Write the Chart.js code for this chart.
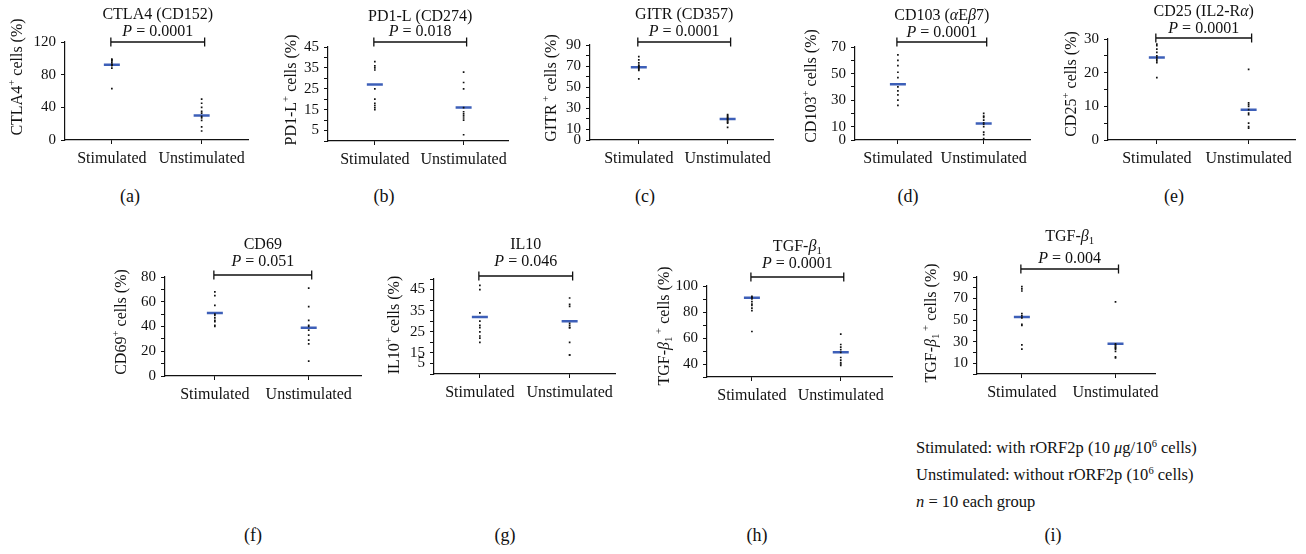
<!DOCTYPE html>
<html>
<head>
<meta charset="utf-8">
<script src="https://cdn.jsdelivr.net/npm/chart.js@4.4.1/dist/chart.umd.min.js"></script>
<style>
  body { margin: 0; background: #fff; }
  #fig { position: relative; width: 1306px; height: 554px; overflow: hidden; font-family: "Liberation Serif", serif; color: #111; }
  canvas { position: absolute; }
  .tag { position: absolute; font-size: 18px; transform: translate(-50%, -50%); white-space: nowrap; }
  .note { position: absolute; left: 916px; font-size: 16.5px; white-space: nowrap; transform: translateY(-50%); }
  .note sup { font-size: 10.5px; vertical-align: 6px; line-height: 0; }
</style>
</head>
<body>
<div id="fig">
  <div class="tag" style="left:130px; top:196px">(a)</div>
  <div class="tag" style="left:384px; top:196px">(b)</div>
  <div class="tag" style="left:645px; top:196px">(c)</div>
  <div class="tag" style="left:908px; top:196px">(d)</div>
  <div class="tag" style="left:1174px; top:196px">(e)</div>
  <div class="tag" style="left:253px; top:535px">(f)</div>
  <div class="tag" style="left:505px; top:535px">(g)</div>
  <div class="tag" style="left:757px; top:535px">(h)</div>
  <div class="tag" style="left:1053px; top:535px">(i)</div>
  <div class="note" style="top:448px">Stimulated: with rORF2p (10 <i>μ</i>g/10<sup>6</sup> cells)</div>
  <div class="note" style="top:475px">Unstimulated: without rORF2p (10<sup>6</sup> cells)</div>
  <div class="note" style="top:502px"><i>n</i> = 10 each group</div>
</div>
<script>
const groups = ['Stimulated', 'Unstimulated'];

// (a) CTLA4 (CD152)
const ctla4Stim = [99, 98, 97, 95, 93, 92, 92, 91, 88, 63];
const ctla4Unstim = [50, 45, 40, 35, 33, 29, 27, 24, 16, 11];
const ctla4Median = [92, 30];
const ctla4Ticks = [0, 40, 80, 120];
const ctla4TickLabels = ['0', '40', '80', '120'];

// (b) PD1-L (CD274)
const pd1lStim = [38, 36, 35, 34, 25, 20, 18, 17, 16, 15];
const pd1lUnstim = [33, 28, 25, 16, 14, 13, 12, 11, 10, 3];
const pd1lMedian = [27, 16];
const pd1lTicks = [0, 5, 10, 15, 20, 25, 30, 35, 40, 45];
const pd1lTickLabels = ['', '5', '', '15', '', '25', '', '35', '', '45'];

// (c) GITR (CD357)
const gitrStim = [79, 76, 73, 71, 70, 69, 68, 67, 66, 58];
const gitrUnstim = [24, 23, 22, 21, 20, 19, 18, 17, 16, 12];
const gitrMedian = [69, 20];
const gitrTicks = [0, 10, 20, 30, 40, 50, 60, 70, 80, 90];
const gitrTickLabels = ['0', '10', '', '30', '', '50', '', '70', '', '90'];

// (d) CD103
const cd103Stim = [64, 60, 56, 51, 47, 40, 37, 34, 30, 26];
const cd103Unstim = [20, 18, 17, 15, 13, 12, 10, 6, 4, 1];
const cd103Median = [42, 12.5];
const cd103Ticks = [0, 10, 20, 30, 40, 50, 60, 70];
const cd103TickLabels = ['0', '10', '', '30', '', '50', '', '70'];

// (e) CD25
const cd25Stim = [28.5, 28, 27, 26, 25, 24.5, 24, 23.5, 23, 18.5];
const cd25Unstim = [21, 11, 10.5, 10, 9, 8, 7.5, 5, 4, 3.5];
const cd25Median = [24.5, 9];
const cd25Ticks = [0, 5, 10, 15, 20, 25, 30];
const cd25TickLabels = ['0', '', '10', '', '20', '', '30'];

// (f) CD69
const cd69Stim = [68, 65, 57, 50, 49, 47, 45, 44, 41, 40];
const cd69Unstim = [71, 56, 45, 41, 40, 37, 33, 29, 26, 12];
const cd69Median = [51, 39];
const cd69Ticks = [0, 10, 20, 30, 40, 50, 60, 70, 80];
const cd69TickLabels = ['0', '', '20', '', '40', '', '60', '', '80'];

// (g) IL10
const il10Stim = [47, 45, 34, 30, 28, 27, 25, 23, 22, 20];
const il10Unstim = [41, 38, 37, 29, 28, 27, 27, 20, 14, 14];
const il10Median = [32, 30];
const il10Ticks = [5, 10, 15, 20, 25, 30, 35, 40, 45, 50];
const il10TickLabels = ['', '5', '15', '', '25', '', '35', '', '45', ''];

// (h) TGF-b1
const tgfStim = [92, 91, 91, 90, 88, 86, 85, 83, 81, 65];
const tgfUnstim = [63, 55, 53, 51, 49, 45, 43, 41, 40, 39];
const tgfMedian = [91, 49];
const tgfTicks = [30, 40, 50, 60, 70, 80, 90, 100];
const tgfTickLabels = ['', '40', '', '60', '', '80', '', '100'];

// (i) TGF-b1, second set
const tgf2Stim = [81, 79, 77, 56, 54, 52, 46, 45, 27, 23];
const tgf2Unstim = [67, 28, 27, 26, 25, 24, 23, 21, 16, 15];
const tgf2Median = [53, 28];
const tgf2Ticks = [0, 10, 20, 30, 40, 50, 60, 70, 80, 90];
const tgf2TickLabels = ['', '10', '', '30', '', '50', '', '70', '', '90'];

const pValues = ['0.0001', '0.018', '0.0001', '0.0001', '0.0001', '0.051', '0.046', '0.0001', '0.004'];

const FONT = '"Liberation Serif", serif';
const INK = '#111';
const BLUE = '#3d5fb8';

Chart.defaults.font.family = FONT;
Chart.defaults.color = INK;

function segFont(style, size) {
  const s = (style === 'sup' || style === 'sub') ? size * 0.68 : size;
  return (style === 'i' ? 'italic ' : '') + s + 'px ' + FONT;
}

function drawRich(ctx, segs, x, y, size) {
  let w = 0;
  segs.forEach(([t, st]) => { ctx.font = segFont(st, size); w += ctx.measureText(t).width; });
  let cx = x - w / 2;
  ctx.textAlign = 'left';
  ctx.textBaseline = 'middle';
  segs.forEach(([t, st]) => {
    ctx.font = segFont(st, size);
    const dy = st === 'sup' ? -size * 0.35 : st === 'sub' ? size * 0.28 : 0;
    ctx.fillText(t, cx, y + dy);
    cx += ctx.measureText(t).width;
  });
}

// title, P value, bracket and rotated y title
const figureText = {
  id: 'figureText',
  afterDraw(chart, args, opts) {
    const p = opts.panel;
    const ctx = chart.ctx;
    const xs = chart.scales.x;
    const x0 = xs.getPixelForValue(0) - 1;
    const x1 = xs.getPixelForValue(1) + 3;
    const mid = (x0 + x1) / 2;
    const by = p.brY - p.ct;
    ctx.save();
    ctx.fillStyle = INK;
    ctx.strokeStyle = INK;
    ctx.lineWidth = 1.3;
    ctx.beginPath();
    ctx.moveTo(x0, by); ctx.lineTo(x1, by);
    ctx.moveTo(x0, by - 4.5); ctx.lineTo(x0, by + 4.5);
    ctx.moveTo(x1, by - 4.5); ctx.lineTo(x1, by + 4.5);
    ctx.stroke();
    drawRich(ctx, p.title, mid, p.titleY - p.ct, 16);
    drawRich(ctx, [['P', 'i'], [' = ' + p.pValue, '']], mid, p.pY - p.ct, 16);
    ctx.translate(p.ytX - p.cl, p.ytY - p.ct);
    ctx.rotate(-Math.PI / 2);
    drawRich(ctx, p.yTitle, 0, 0, 16);
    ctx.restore();
  }
};

const panels = [
  { title: [['CTLA4 (CD152)', '']], yTitle: [['CTLA4', ''], ['+', 'sup'], [' cells (%)', '']],
    stim: ctla4Stim, unstim: ctla4Unstim, median: ctla4Median, yTicks: ctla4Ticks, yTickLabels: ctla4TickLabels, yMin: 0, yMax: 120,
    cl: 6, ct: 0, axisX: 65, axisRight: 253, top: 42, bottom: 140, catA: 113, catB: 205, ytX: 18, ytY: 77, titleY: 15, pY: 32, brY: 42 },
  { title: [['PD1-L (CD274)', '']], yTitle: [['PD1-L', ''], ['+', 'sup'], [' cells (%)', '']],
    stim: pd1lStim, unstim: pd1lUnstim, median: pd1lMedian, yTicks: pd1lTicks, yTickLabels: pd1lTickLabels, yMin: 0, yMax: 45,
    cl: 280, ct: 0, axisX: 328, axisRight: 513, top: 47, bottom: 141, catA: 376, catB: 467, ytX: 292, ytY: 90, titleY: 17, pY: 32, brY: 42 },
  { title: [['GITR (CD357)', '']], yTitle: [['GITR', ''], [' +', 'sup'], [' cells (%)', '']],
    stim: gitrStim, unstim: gitrUnstim, median: gitrMedian, yTicks: gitrTicks, yTickLabels: gitrTickLabels, yMin: 0, yMax: 90,
    cl: 540, ct: 0, axisX: 590, axisRight: 778, top: 45, bottom: 140, catA: 640, catB: 731, ytX: 552, ytY: 88, titleY: 15, pY: 32, brY: 42 },
  { title: [['CD103 (', ''], ['α', 'i'], ['E', ''], ['β', 'i'], ['7)', '']], yTitle: [['CD103', ''], ['+', 'sup'], [' cells (%)', '']],
    stim: cd103Stim, unstim: cd103Unstim, median: cd103Median, yTicks: cd103Ticks, yTickLabels: cd103TickLabels, yMin: 0, yMax: 70,
    cl: 800, ct: 0, axisX: 855, axisRight: 1035, top: 47, bottom: 140, catA: 899, catB: 987, ytX: 812, ytY: 86, titleY: 16, pY: 33, brY: 42 },
  { title: [['CD25 (IL2-R', ''], ['α', 'i'], [')', '']], yTitle: [['CD25', ''], ['+', 'sup'], [' cells (%)', '']],
    stim: cd25Stim, unstim: cd25Unstim, median: cd25Median, yTicks: cd25Ticks, yTickLabels: cd25TickLabels, yMin: 0, yMax: 30,
    cl: 1060, ct: 0, axisX: 1108, axisRight: 1300, top: 39, bottom: 140, catA: 1158, catB: 1252, ytX: 1072, ytY: 84, titleY: 12, pY: 29, brY: 38 },
  { title: [['CD69', '']], yTitle: [['CD69', ''], ['+', 'sup'], [' cells (%)', '']],
    stim: cd69Stim, unstim: cd69Unstim, median: cd69Median, yTicks: cd69Ticks, yTickLabels: cd69TickLabels, yMin: 0, yMax: 80,
    cl: 110, ct: 225, axisX: 165, axisRight: 366, top: 277, bottom: 376, catA: 216, catB: 312, ytX: 122, ytY: 322, titleY: 245, pY: 262, brY: 275 },
  { title: [['IL10', '']], yTitle: [['IL10', ''], ['+', 'sup'], [' cells (%)', '']],
    stim: il10Stim, unstim: il10Unstim, median: il10Median, yTicks: il10Ticks, yTickLabels: il10TickLabels, yMin: 5, yMax: 50,
    cl: 383, ct: 225, axisX: 434, axisRight: 620, top: 279, bottom: 374, catA: 481, catB: 573, ytX: 395, ytY: 325, titleY: 245, pY: 262, brY: 276 },
  { title: [['TGF-', ''], ['β', 'i'], ['1', 'sub']], yTitle: [['TGF-', ''], ['β', 'i'], ['1', 'sub'], [' +', 'sup'], [' cells (%)', '']],
    stim: tgfStim, unstim: tgfUnstim, median: tgfMedian, yTicks: tgfTicks, yTickLabels: tgfTickLabels, yMin: 30, yMax: 100,
    cl: 653, ct: 225, axisX: 707, axisRight: 897, top: 286, bottom: 377, catA: 753, catB: 844, ytX: 665, ytY: 326, titleY: 247, pY: 264, brY: 277 },
  { title: [['TGF-', ''], ['β', 'i'], ['1', 'sub']], yTitle: [['TGF-', ''], ['β', 'i'], ['1', 'sub'], [' +', 'sup'], [' cells (%)', '']],
    stim: tgf2Stim, unstim: tgf2Unstim, median: tgf2Median, yTicks: tgf2Ticks, yTickLabels: tgf2TickLabels, yMin: 0, yMax: 90,
    cl: 920, ct: 225, axisX: 977, axisRight: 1160, top: 277, bottom: 374, catA: 1023, catB: 1119, ytX: 932, ytY: 323, titleY: 237, pY: 259, brY: 269 }
];

const fig = document.getElementById('fig');

function buildPanel(p, i) {
  p.pValue = pValues[i];
  const canvas = document.createElement('canvas');
  const w = p.axisRight + 6 - p.cl;
  const h = p.bottom + 34 - p.ct;
  canvas.width = w;
  canvas.height = h;
  canvas.style.left = p.cl + 'px';
  canvas.style.top = p.ct + 'px';
  canvas.style.width = w + 'px';
  canvas.style.height = h + 'px';
  fig.appendChild(canvas);

  const span = p.catB - p.catA;
  const axisGrid = { drawOnChartArea: false, drawTicks: true, tickLength: 4, color: INK, tickWidth: 1 };
  const axisBorder = { color: INK, width: 1.2 };

  new Chart(canvas, {
    type: 'scatter',
    data: {
      datasets: [
        {
          data: p.stim.map(v => ({ x: 0, y: v })).concat(p.unstim.map(v => ({ x: 1, y: v }))),
          pointStyle: 'rect', pointRadius: 1.2, backgroundColor: INK, borderWidth: 0
        },
        {
          data: p.median.map((v, k) => ({ x: k, y: v })),
          pointStyle: 'line', pointRadius: 8, borderColor: BLUE, borderWidth: 2.5
        }
      ]
    },
    options: {
      responsive: false,
      animation: false,
      events: [],
      layout: { padding: { top: p.top - p.ct, right: 6, left: 0, bottom: 0 } },
      plugins: { legend: { display: false }, tooltip: { enabled: false }, figureText: { panel: p } },
      scales: {
        x: {
          type: 'linear',
          min: -(p.catA - p.axisX) / span,
          max: 1 + (p.axisRight - p.catB) / span,
          afterBuildTicks: s => { s.ticks = [{ value: 0 }, { value: 1 }]; },
          afterFit: s => { s.height = 34; },
          grid: axisGrid,
          border: axisBorder,
          ticks: { callback: v => groups[v], font: { size: 16 }, color: INK, padding: 5, maxRotation: 0, autoSkip: false }
        },
        y: {
          min: p.yMin,
          max: p.yMax,
          afterBuildTicks: s => { s.ticks = p.yTicks.map(v => ({ value: v })); },
          afterFit: s => { s.width = p.axisX - p.cl; },
          grid: axisGrid,
          border: axisBorder,
          ticks: { callback: (v, k) => p.yTickLabels[k], font: { size: 15 }, color: INK, padding: 5, autoSkip: false }
        }
      }
    },
    plugins: [figureText]
  });
}

panels.forEach(buildPanel);
</script>
</body>
</html>
